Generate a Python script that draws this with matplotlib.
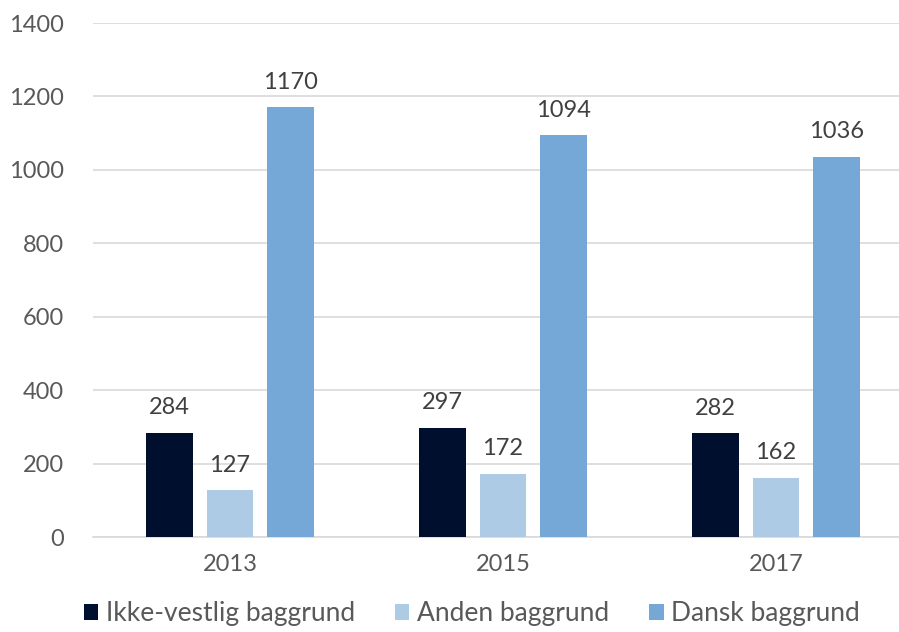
import numpy as np
import matplotlib.pyplot as plt

years = ['2013', '2015', '2017']
ikke_vestlig = [284, 297, 282]
anden = [127, 172, 162]
dansk = [1170, 1094, 1036]
series_names = ['Ikke-vestlig baggrund', 'Anden baggrund', 'Dansk baggrund']
colors = ['#000f2e', '#aecbe5', '#75a8d6']

plt.rcParams['font.family'] = ['Lato', 'DejaVu Sans']
text_color = '#595959'

fig = plt.figure(figsize=(8.99, 6.32), dpi=100)
ax = fig.add_axes([93 / 899, 1 - 537 / 632, (899 - 93) / 899, 514 / 632])

x = np.arange(len(years))
width = 0.172
step = 0.2216
for i, (vals, name, c) in enumerate(zip([ikke_vestlig, anden, dansk], series_names, colors)):
    bars = ax.bar(x + (i - 1) * step, vals, width, color=c, label=name, zorder=3)
    for b, v in zip(bars, vals):
        ax.text(b.get_x() + b.get_width() / 2, v + 40, str(v), ha='center', va='bottom',
                fontsize=17, color='#404040')

ax.set_xlim((93 - 230) / 273, (899 - 230) / 273)
ax.set_ylim(0, 1400)
ax.set_yticks(range(0, 1401, 200))
ax.set_xticks(x)
ax.set_xticklabels(years)
ax.yaxis.grid(True, color='#d9d9d9', linewidth=1.2, zorder=0)
for s in ['top', 'right', 'left']:
    ax.spines[s].set_visible(False)
ax.spines['bottom'].set_color('#d9d9d9')
ax.spines['bottom'].set_linewidth(1.2)
ax.tick_params(axis='both', length=0, labelsize=17, labelcolor=text_color)
ax.tick_params(axis='y', pad=21)
ax.tick_params(axis='x', pad=12)

fig.legend(loc='lower center', bbox_to_anchor=(0.525, -0.028), ncol=3, frameon=False,
           fontsize=19, labelcolor=text_color, handlelength=0.55, handleheight=0.55,
           handletextpad=0.3, columnspacing=1.5)

plt.savefig('out.png', dpi=100)
plt.close()
